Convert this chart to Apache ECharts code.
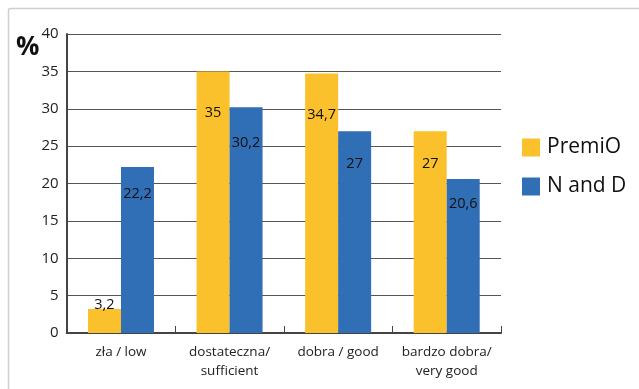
<!DOCTYPE html>
<html>
<head>
<meta charset="utf-8">
<script src="https://cdn.jsdelivr.net/npm/echarts@6/dist/echarts.min.js"></script>
<style>
  html, body { margin: 0; padding: 0; background: #fff; }
  #chart { width: 639px; height: 389px; }
</style>
</head>
<body>
<div id="chart"></div>
<script>
// Quality ratings by group, in percent
const categories = ['zła / low', 'dostateczna/\nsufficient', 'dobra / good', 'bardzo dobra/\nvery good'];
const premioValues = [3.2, 35, 34.7, 27];
const nandValues = [22.2, 30.2, 27, 20.6];
const seriesNames = ['PremiO', 'N and D'];
const yTicks = [0, 5, 10, 15, 20, 25, 30, 35, 40];

const YELLOW = '#FBC12D';
const BLUE = '#306EB6';
const FONT = '"Open Sans", "Noto Sans", sans-serif';

function fmt(v) { return String(v).replace('.', ','); }

// Values are printed near the top of each bar; short bars carry the label above.
function toItems(values) {
  return values.map(v => ({
    value: v,
    label: v < 8
      ? { position: 'top', distance: -3 }
      : { position: ['50%', '16%'], align: 'center', verticalAlign: 'middle' }
  }));
}

const chart = echarts.init(document.getElementById('chart'), null, { renderer: 'canvas' });

chart.setOption({
  animation: false,
  backgroundColor: '#fff',
  textStyle: { fontFamily: FONT },
  graphic: [
    {
      type: 'rect',
      shape: { x: 8.5, y: 8.5, width: 700, height: 500, r: 2 },
      style: { fill: 'none', stroke: '#cfcfcf', lineWidth: 1.5 },
      z: -10
    },
    {
      type: 'text',
      left: 16, top: 35,
      style: { text: '%', font: 'bold 26px ' + FONT, fill: '#111' }
    }
  ],
  grid: { left: 66.7, right: 138, top: 34, bottom: 56, containLabel: false },
  legend: {
    orient: 'vertical',
    left: 522, top: 137,
    padding: 0,
    itemWidth: 18, itemHeight: 18, itemGap: 18,
    icon: 'rect',
    textStyle: { fontSize: 21, color: '#111', fontFamily: FONT, padding: [0, 0, 0, 2] },
    data: seriesNames
  },
  xAxis: {
    type: 'category',
    data: categories,
    axisLine: { lineStyle: { color: '#444', width: 2 } },
    axisTick: { show: true, inside: true, length: 7, interval: 0, lineStyle: { color: '#444', width: 1 } },
    axisLabel: { fontSize: 13.5, color: '#222', margin: 10, lineHeight: 19, interval: 0, fontFamily: FONT }
  },
  yAxis: {
    type: 'value',
    min: 0, max: 40, interval: 5,
    axisLine: { show: true, lineStyle: { color: '#444', width: 2 } },
    axisTick: { show: false },
    axisLabel: {
      fontSize: 15, color: '#222', margin: 8, fontFamily: FONT,
      formatter: v => (yTicks.includes(v) ? String(v) : '')
    },
    splitLine: { lineStyle: { color: '#555', width: 1 } }
  },
  series: [
    {
      name: seriesNames[0],
      type: 'bar',
      data: toItems(premioValues),
      barWidth: 33,
      barGap: '0%',
      itemStyle: { color: YELLOW },
      label: { show: true, fontSize: 14.5, color: '#111', fontFamily: FONT, formatter: p => fmt(p.value) }
    },
    {
      name: seriesNames[1],
      type: 'bar',
      data: toItems(nandValues),
      barWidth: 33,
      barGap: '0%',
      itemStyle: { color: BLUE },
      label: { show: true, fontSize: 14.5, color: '#111', fontFamily: FONT, formatter: p => fmt(p.value) }
    }
  ]
});
</script>
</body>
</html>
